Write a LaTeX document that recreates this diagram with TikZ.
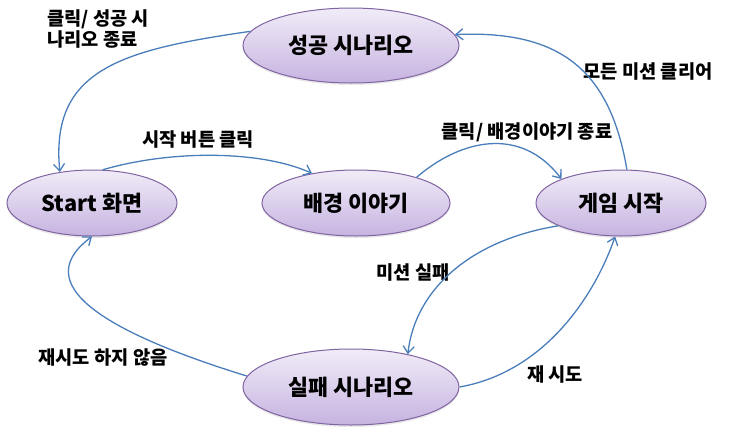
\documentclass[tikz,border=0pt]{standalone}
\usepackage{fontspec}
\setmainfont{Noto Sans CJK KR}
\usetikzlibrary{shapes.geometric,shadows,arrows.meta}
\usetikzlibrary{positioning}

\definecolor{nodeborder}{HTML}{8064A2}
\definecolor{nodetop}{HTML}{F1ECF8}
\definecolor{nodebottom}{HTML}{C6B3E0}
\definecolor{arrowblue}{HTML}{4A7EBB}

\begin{document}
\begin{tikzpicture}[x=1pt,y=-1pt,
    statenode/.style={ellipse, draw=nodeborder, line width=1pt, top color=nodetop, bottom color=nodebottom, inner sep=0pt,
        drop shadow={opacity=0.18, shadow xshift=0pt, shadow yshift=-2pt},
        font=\fontsize{21.8}{24}\selectfont\bfseries},
    edgetext/.style={inner sep=0pt, font=\fontsize{18.7}{18.5}\selectfont\bfseries},
    flow/.style={-{Straight Barb[length=7pt,width=11pt]}, draw=arrowblue, line width=1.3pt}]
            \useasboundingbox (0,0) rectangle (750,432);
            %Nodes
            \node[statenode, minimum width=170pt, minimum height=66pt]   (start)  at (92,203)    {Start 화면};
            \node[statenode, minimum width=188pt, minimum height=66pt]   (story)  [right=84pt of start]    {배경 이야기};
            \node[statenode, minimum width=170pt, minimum height=66pt]   (game)   [right=85pt of story]    {게임 시작};
            \node[statenode, minimum width=216pt, minimum height=75pt]   (success) [above=86pt of story, xshift=-5pt]   {성공 시나리오};
            \node[statenode, minimum width=216pt, minimum height=76pt]   (fail)   [below=112pt of story, xshift=-5pt]   {실패 시나리오};
            %Labels
            \node[edgetext, anchor=west, align=left] (endtext) at (47,29) {클릭/ 성공 시\\나리오 종료};
            \node[edgetext] (starttext)  at (198,140) {시작 버튼 클릭};
            \node[edgetext] (storytext)  at (527,132) {클릭/ 배경이야기 종료};
            \node[edgetext] (cleartext)  at (648,72)  {모든 미션 클리어};
            \node[edgetext] (failtext)   at (413,272) {미션 실패};
            \node[edgetext] (retrytext)  at (555,374) {재 시도};
            \node[edgetext] (quittext)   at (103,357) {재시도 하지 않음};
            %Arrows
            \draw[flow] (success.172) .. controls (120,50) and (50,70) .. (start.136);
            \draw[flow] (start.72) .. controls (170,150) and (260,150) .. (story.146);
            \draw[flow] (story.23) .. controls (460,140) and (520,125) .. (game.158);
            \draw[flow] (game.80) .. controls (610,70) and (560,30) .. (success.6);
            \draw[flow] (game.200) .. controls (470,240) and (415,290) .. (fail.30);
            \draw[flow] (fail.east) .. controls (545,372) and (595,295) .. (game.260);
            \draw[flow] (fail.174) .. controls (130,340) and (20,290) .. (start.south);
        \end{tikzpicture}
\end{document}
